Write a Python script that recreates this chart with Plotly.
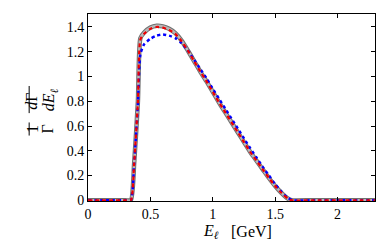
import plotly.graph_objects as go

# x grid (GeV)
x_vals = [0.0, 0.1, 0.2, 0.3, 0.343, 0.37, 0.40, 0.42, 0.45, 0.5, 0.55, 0.6, 0.65, 0.7, 0.75,
          0.8, 0.85, 0.9, 0.95, 1.0, 1.05, 1.1, 1.15, 1.2, 1.25, 1.3, 1.35, 1.4,
          1.45, 1.5, 1.55, 1.6, 1.63, 1.8, 2.0, 2.2, 2.3]

# central (grey band) curve
gray_vals = [0, 0, 0, 0, 0, 0.30, 0.80, 1.31, 1.355, 1.395, 1.41, 1.405, 1.385, 1.35, 1.29,
             1.21, 1.125, 1.04, 0.96, 0.875, 0.79, 0.71, 0.63, 0.55, 0.47, 0.39, 0.32, 0.25,
             0.18, 0.115, 0.06, 0.015, 0, 0, 0, 0, 0]

# red dashed curve
red_vals = [0, 0, 0, 0, 0, 0.30, 0.80, 1.30, 1.345, 1.385, 1.40, 1.395, 1.375, 1.345, 1.285,
            1.21, 1.125, 1.04, 0.96, 0.875, 0.79, 0.71, 0.63, 0.55, 0.47, 0.39, 0.32, 0.25,
            0.18, 0.115, 0.06, 0.015, 0, 0, 0, 0, 0]

# blue dotted curve
blue_x = [0.0, 0.1, 0.2, 0.3, 0.343, 0.37, 0.40, 0.42, 0.45, 0.5, 0.55, 0.6, 0.65, 0.7, 0.75,
          0.8, 0.85, 0.9, 0.95, 1.0, 1.05, 1.1, 1.15, 1.2, 1.25, 1.3, 1.35, 1.4,
          1.45, 1.5, 1.55, 1.6, 1.64, 1.8, 2.0, 2.2, 2.3]
blue_vals = [0, 0, 0, 0, 0, 0.30, 0.78, 1.18, 1.26, 1.305, 1.33, 1.34, 1.33, 1.31, 1.27,
             1.21, 1.135, 1.06, 0.985, 0.90, 0.82, 0.74, 0.66, 0.58, 0.50, 0.42, 0.345, 0.27,
             0.20, 0.13, 0.07, 0.02, 0, 0, 0, 0, 0]

x_ticks = [0, 0.5, 1, 1.5, 2]
x_tick_labels = ["0", "0.5", "1", "1.5", "2"]
y_ticks = [0, 0.2, 0.4, 0.6, 0.8, 1.0, 1.2, 1.4]
y_tick_labels = ["0", "0.2", "0.4", "0.6", "0.8", "1", "1.2", "1.4"]

SERIF = "'Liberation Serif', 'Times New Roman', serif"

fig = go.Figure()
fig.add_trace(go.Scatter(x=x_vals, y=gray_vals, mode="lines", line_shape="spline",
                         line=dict(color="#707070", width=4.5, smoothing=0.6), hoverinfo="skip"))
fig.add_trace(go.Scatter(x=x_vals, y=gray_vals, mode="lines", line_shape="spline",
                         line=dict(color="#b8b8b8", width=2.5, smoothing=0.6), hoverinfo="skip"))
fig.add_trace(go.Scatter(x=blue_x, y=blue_vals, mode="lines", line_shape="spline",
                         line=dict(color="#0000ff", width=2.5, dash="dot", smoothing=0.6)))
fig.add_trace(go.Scatter(x=x_vals, y=red_vals, mode="lines", line_shape="spline",
                         line=dict(color="#ee0000", width=2.2, dash="4px,3px", smoothing=0.6)))

axis_common = dict(showline=True, linecolor="black", linewidth=1, mirror="ticks",
                   ticks="inside", ticklen=4, tickcolor="black", showgrid=False,
                   zeroline=False, tickfont=dict(family=SERIF, size=14, color="black"))

fig.update_xaxes(range=[0, 2.3], tickvals=x_ticks, ticktext=x_tick_labels, **axis_common)
fig.update_yaxes(range=[-0.006, 1.505], tickvals=y_ticks, ticktext=y_tick_labels, **axis_common)

ann_font = dict(family=SERIF, size=16, color="black")
annotations = [
    dict(text="<i>E</i><sub><i>ℓ</i></sub>", x=0.43, y=-0.165, xref="paper", yref="paper",
         showarrow=False, font=ann_font, yanchor="middle"),
    dict(text="[GeV]", x=0.57, y=-0.165, xref="paper", yref="paper",
         showarrow=False, font=ann_font, yanchor="middle"),
    dict(text="1", x=-0.232, y=0.385, xref="paper", yref="paper", textangle=-90,
         showarrow=False, font=ann_font),
    dict(text="Γ", x=-0.178, y=0.385, xref="paper", yref="paper", textangle=-90,
         showarrow=False, font=ann_font),
    dict(text="<i>d</i>Γ", x=-0.232, y=0.535, xref="paper", yref="paper", textangle=-90,
         showarrow=False, font=ann_font),
    dict(text="<i>dE</i><sub><i>ℓ</i></sub>", x=-0.175, y=0.54, xref="paper", yref="paper",
         textangle=-90, showarrow=False, font=ann_font),
]
shapes = [
    dict(type="line", xref="paper", yref="paper", x0=-0.205, x1=-0.205, y0=0.35, y1=0.42,
         line=dict(color="black", width=1)),
    dict(type="line", xref="paper", yref="paper", x0=-0.205, x1=-0.205, y0=0.47, y1=0.615,
         line=dict(color="black", width=1)),
]

fig.update_layout(width=390, height=244, margin=dict(l=88, r=15, t=14, b=43),
                  paper_bgcolor="white", plot_bgcolor="white", showlegend=False,
                  font=dict(family=SERIF),
                  annotations=annotations, shapes=shapes)

fig.write_html("out.html", config={"displayModeBar": False},
               post_script="document.body.style.margin='0px';")
